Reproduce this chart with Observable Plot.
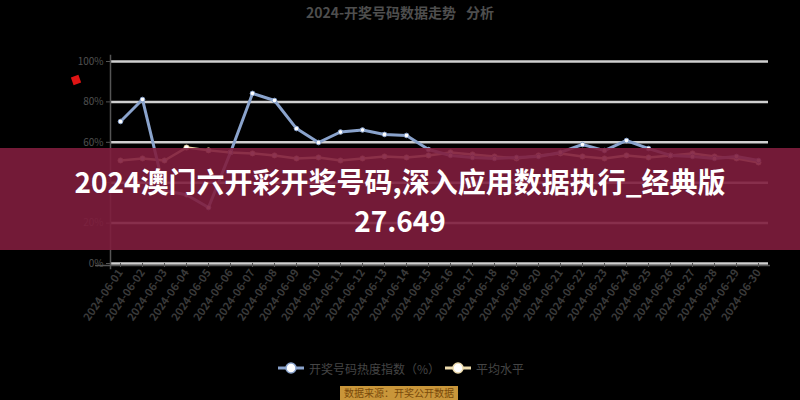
<!DOCTYPE html>
<html><head><meta charset="utf-8">
<script src="https://cdn.jsdelivr.net/npm/d3@7"></script>
<script src="https://cdn.jsdelivr.net/npm/@observablehq/plot@0.6"></script>
<style>
body{margin:0;background:#000;width:800px;height:400px;overflow:hidden;position:relative;font-family:"Noto Sans CJK SC","Noto Sans",sans-serif;}
#title{position:absolute;top:2px;left:0;width:800px;text-align:center;color:#4e4e4e;font-weight:700;font-size:14px;line-height:20px;}
#title span{margin:0 5px;}
#chart{position:absolute;top:0;left:0;}
#icon{position:absolute;left:72px;top:76px;width:8px;height:8px;background:#e01414;transform:rotate(-20deg);}
#banner{position:absolute;left:0;top:148px;width:800px;height:102px;background:rgba(127,29,61,0.9);color:#fff;font-weight:700;font-size:28px;text-align:center;line-height:39px;padding-top:14px;box-sizing:border-box;}
.leg{position:absolute;top:360px;height:16px;display:flex;align-items:center;color:#454545;font-size:12px;}
.leg svg{margin-right:5px;}
#caption{position:absolute;left:340px;top:386px;width:118px;height:14px;background:#c9963a;color:#7a4a0a;font-size:10px;line-height:14px;text-align:center;white-space:nowrap;}
</style>
</head><body>
<div id="title"><span>2024-开奖号码数据走势</span><span>分析</span></div>
<div id="chart"></div>
<div id="icon"></div>
<div class="leg" style="left:278px"><svg width="26" height="14"><line x1="0" y1="7" x2="26" y2="7" stroke="#8aa3cc" stroke-width="3"/><circle cx="13" cy="7" r="5" fill="#fff" stroke="#8aa3cc" stroke-width="1.5"/></svg><span>开奖号码热度指数（%）</span></div>
<div class="leg" style="left:445px"><svg width="26" height="14"><line x1="0" y1="7" x2="26" y2="7" stroke="#eedcae" stroke-width="3"/><circle cx="13" cy="7" r="5" fill="#fff" stroke="#eedcae" stroke-width="1.5"/></svg><span>平均水平</span></div>
<div id="caption">数据来源：开奖公开数据</div>
<div id="banner">2024澳门六开彩开奖号码,深入应用数据执行_经典版<br>27.649</div>
<script>
const dates = ["2024-06-01","2024-06-02","2024-06-03","2024-06-04","2024-06-05","2024-06-06","2024-06-07","2024-06-08","2024-06-09","2024-06-10","2024-06-11","2024-06-12","2024-06-13","2024-06-14","2024-06-15","2024-06-16","2024-06-17","2024-06-18","2024-06-19","2024-06-20","2024-06-21","2024-06-22","2024-06-23","2024-06-24","2024-06-25","2024-06-26","2024-06-27","2024-06-28","2024-06-29","2024-06-30"];
const heatValues = [70.3,81.2,36,34,27.7,55,84.2,80.7,66.8,59.9,65.1,66.1,63.9,63.4,56.4,53.5,52.5,52,52.5,53,55,58.9,55.9,60.9,56.9,53.5,53,52,53,51];
const avgValues = [51,52,51,57.4,56,55,54.5,53.5,52,52.5,51,52,53,52.5,53.5,55,54,53,52,53.5,54.5,53,52,53.5,52.5,53.5,54.5,53,52,50];
const yTicks = [0,20,40,60,80,100];

const heat = dates.map((d,i)=>({date:d,value:heatValues[i]}));
const avg = dates.map((d,i)=>({date:d,value:avgValues[i]}));

const blue = "#8aa3cc", cream = "#eedcae";
const chart = Plot.plot({
  width:800, height:350,
  marginTop:61, marginBottom:87, marginLeft:110, marginRight:32,
  style:{background:"transparent", color:"#555", fontFamily:"'Noto Sans CJK SC','Noto Sans',sans-serif"},
  x:{type:"point", domain:dates, padding:0.45},
  y:{domain:[0,100]},
  marks:[
    Plot.gridY(yTicks,{stroke:"#d0d0d0", strokeOpacity:1, strokeWidth:2.5}),
    Plot.frame({anchor:"left", stroke:"#555", strokeWidth:1.5, insetTop:-6, insetBottom:-5}),
    Plot.ruleY([0],{stroke:"#555", strokeWidth:1.5, insetLeft:-15, insetRight:-2, dy:2}),
    Plot.axisY(yTicks,{tickFormat:d=>d+"%", fontSize:10, fill:"#505050", stroke:"#555", tickSize:4, tickPadding:3, label:null}),
    Plot.axisX({tickRotate:-55, fontSize:11, fontWeight:"bold", fill:"#3a3a3a", stroke:"#555", tickSize:4, tickPadding:3, label:null}),
    Plot.line(avg,{x:"date", y:"value", stroke:cream, strokeWidth:2.5}),
    Plot.dot(avg,{x:"date", y:"value", r:2.5, fill:"#fff", stroke:cream, strokeWidth:1}),
    Plot.line(heat,{x:"date", y:"value", stroke:blue, strokeWidth:3}),
    Plot.dot(heat,{x:"date", y:"value", r:2.3, fill:"#fff", stroke:blue, strokeWidth:1})
  ]
});
document.getElementById("chart").appendChild(chart);
</script>
</body></html>
